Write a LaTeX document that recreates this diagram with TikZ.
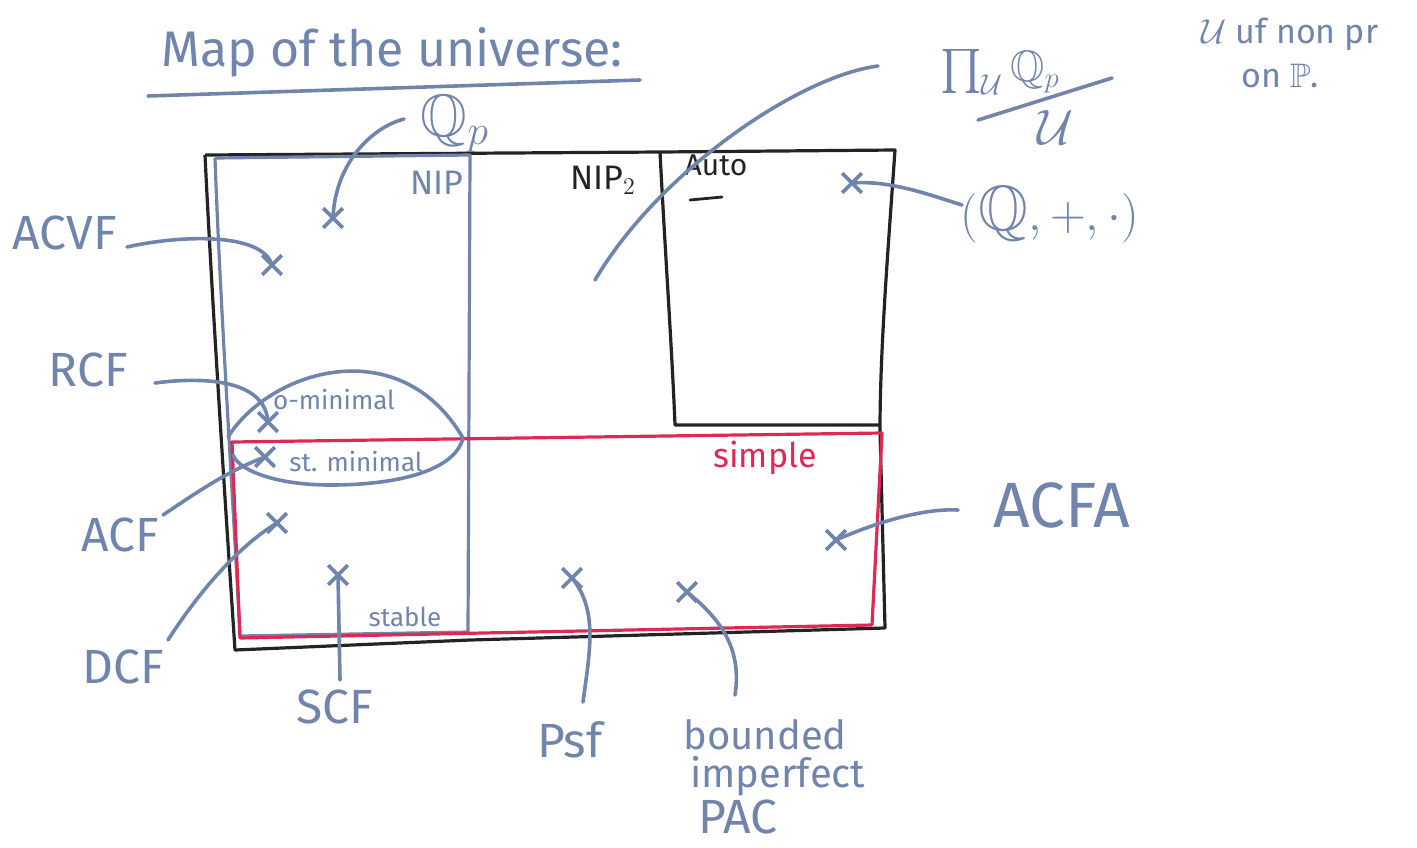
\documentclass[tikz,border=0pt]{standalone}
\usepackage{fontspec}
\usepackage{amssymb}
\setmainfont{Fira Sans}
\usetikzlibrary{shapes.misc}
\definecolor{ink}{RGB}{112,132,172}
\definecolor{boxblack}{RGB}{35,35,35}
\definecolor{simplered}{RGB}{222,40,85}
\tikzset{
  pen/.style={draw=ink, line width=1.8pt, line cap=round, line join=round},
  boxline/.style={draw=boxblack, line width=1.6pt, line join=round},
  nipline/.style={draw=ink, line width=1.6pt, line join=round},
  redline/.style={draw=simplered, line width=1.6pt, line join=round},
  xm/.style={cross out, draw=ink, line width=1.8pt, minimum size=8pt, inner sep=0pt},
  lbl/.style={text=ink, font=\fontsize{24}{28}\selectfont, inner sep=0pt},
  big/.style={text=ink, font=\fontsize{32}{36}\selectfont, inner sep=0pt},
  mid/.style={text=ink, font=\fontsize{20}{24}\selectfont, inner sep=0pt},
  small/.style={text=ink, font=\fontsize{13}{16}\selectfont, inner sep=0pt},
}
\begin{document}
\begin{tikzpicture}[x=0.5pt,y=-0.5pt]
\useasboundingbox (0,0) rectangle (1417,847);

% title
\node[text=ink, font=\fontsize{25}{30}\selectfont, inner sep=0pt] (title) at (392,52) {Map of the universe:};
\coordinate (ul1) at (148,96);
\coordinate (ul2) at (640,80);
\draw[pen] (ul1) -- (ul2);

% note on the ultrafilter
\node[text=ink, font=\fontsize{17}{20}\selectfont, inner sep=0pt] (note1) at (1290,34) {$\mathcal{U}$ uf non pr};
\node[text=ink, font=\fontsize{17}{20}\selectfont, inner sep=0pt] (note2) at (1280,76) {on $\mathbb{P}$.};

% ultraproduct label
\node[text=ink, font=\fontsize{22}{26}\selectfont, inner sep=0pt] (ultra) at (1000,72) {$\prod_{\mathcal{U}}\mathbb{Q}_p$};
\coordinate (bar1) at (978,120);
\coordinate (bar2) at (1112,78);
\draw[pen] (bar1) -- (bar2);
\node[text=ink, font=\fontsize{24}{28}\selectfont, inner sep=0pt] (ultraU) at (1056,127) {$\mathcal{U}$};

% outer black frame
\draw[boxline] (205,155) -- (660,152) -- (895,150)
  .. controls (888,250) and (880,350) .. (880,430) -- (885,628)
  -- (470,640) -- (235,650)
  .. controls (225,500) and (212,300) .. (205,155);
% the region containing (Q,+,.)
\draw[boxline] (660,152) .. controls (665,250) and (672,350) .. (675,425) -- (880,425);

% NIP box
\draw[nipline] (215,158) -- (470,155) -- (468,632) -- (240,636)
  .. controls (232,480) and (220,300) .. (215,158);

% simple box
\draw[redline] (232,442) -- (882,433) -- (872,625) -- (240,638) -- cycle;

% o-minimal / strongly minimal region
\draw[pen] (228,437) .. controls (270,370) and (400,330) .. (463,438)
  .. controls (455,470) and (400,485) .. (330,485)
  .. controls (280,485) and (240,472) .. (233,455);

% region names
\node[text=ink, font=\fontsize{17}{20}\selectfont, inner sep=0pt] (nip) at (437,183) {NIP};
\node[text=boxblack, font=\fontsize{17}{20}\selectfont, inner sep=0pt] (nip2) at (603,180) {NIP$_2$};
\node[text=boxblack, font=\fontsize{15}{18}\selectfont, inner sep=0pt] (auto) at (716,165) {Auto};
\coordinate (au1) at (690,200);
\coordinate (au2) at (722,197);
\draw[draw=boxblack, line width=1.4pt, line cap=round] (au1) -- (au2);
\node[small] (omin) at (334,400) {o-minimal};
\node[small] (stmin) at (356,462) {st. minimal};
\node[text=simplered, font=\fontsize{17}{20}\selectfont, inner sep=0pt] (simple) at (765,458) {simple};
\node[small] (stable) at (405,617) {stable};

% marked theories
\node[xm] (xqp) at (333,218) {};
\node[xm] (xacvf) at (272,265) {};
\node[xm] (xrcf) at (268,422) {};
\node[xm] (xacf) at (265,457) {};
\node[xm] (xdcf) at (277,523) {};
\node[xm] (xscf) at (338,575) {};
\node[xm] (xpsf) at (572,578) {};
\node[xm] (xpac) at (687,592) {};
\node[xm] (xacfa) at (836,540) {};
\node[xm] (xq) at (852,183) {};

% labels outside
\node[text=ink, font=\fontsize{30}{34}\selectfont, inner sep=0pt] (qp) at (455,124) {$\mathbb{Q}_p$};
\node[lbl] (acvf) at (65,233) {ACVF};
\node[lbl] (rcf) at (88,370) {RCF};
\node[lbl] (acf) at (120,535) {ACF};
\node[lbl] (dcf) at (123,667) {DCF};
\node[lbl] (scf) at (335,707) {SCF};
\node[lbl] (psf) at (570,740) {Psf};
\node[mid, anchor=west] (pac1) at (683,735) {bounded};
\node[mid, anchor=west] (pac2) at (690,776) {imperfect};
\node[lbl, anchor=west] (pac3) at (698,817) {PAC};
\node[big] (acfa) at (1062,505) {ACFA};
\node[big] (qfield) at (1050,215) {$(\mathbb{Q},+,\cdot)$};

% connectors
\coordinate (s-qp) at (404,119);
\coordinate (s-ultra) at (878,66);
\coordinate (e-ultra) at (595,280);
\coordinate (s-acvf) at (127,247);
\coordinate (s-rcf) at (155,383);
\coordinate (s-acf) at (163,515);
\coordinate (s-dcf) at (168,640);
\coordinate (s-scf) at (340,680);
\coordinate (s-psf) at (583,702);
\coordinate (s-pac) at (735,695);
\coordinate (s-acfa) at (958,510);
\coordinate (s-q) at (962,205);

\draw[pen] (s-qp) .. controls (370,128) and (335,165) .. (xqp.center);
\draw[pen] (s-ultra) .. controls (800,76) and (660,170) .. (e-ultra);
\draw[pen] (s-acvf) .. controls (180,235) and (262,232) .. (xacvf.center);
\draw[pen] (s-rcf) .. controls (200,377) and (265,378) .. (xrcf.center);
\draw[pen] (s-acf) .. controls (200,490) and (230,470) .. (xacf.center);
\draw[pen] (s-dcf) .. controls (200,590) and (240,545) .. (xdcf.center);
\draw[pen] (s-scf) -- (xscf.center);
\draw[pen] (s-psf) .. controls (590,650) and (598,610) .. (xpsf.center);
\draw[pen] (s-pac) .. controls (742,650) and (722,620) .. (xpac.center);
\draw[pen] (s-acfa) .. controls (920,508) and (870,525) .. (xacfa.center);
\draw[pen] (s-q) .. controls (930,195) and (890,180) .. (xq.center);
\end{tikzpicture}
\end{document}
